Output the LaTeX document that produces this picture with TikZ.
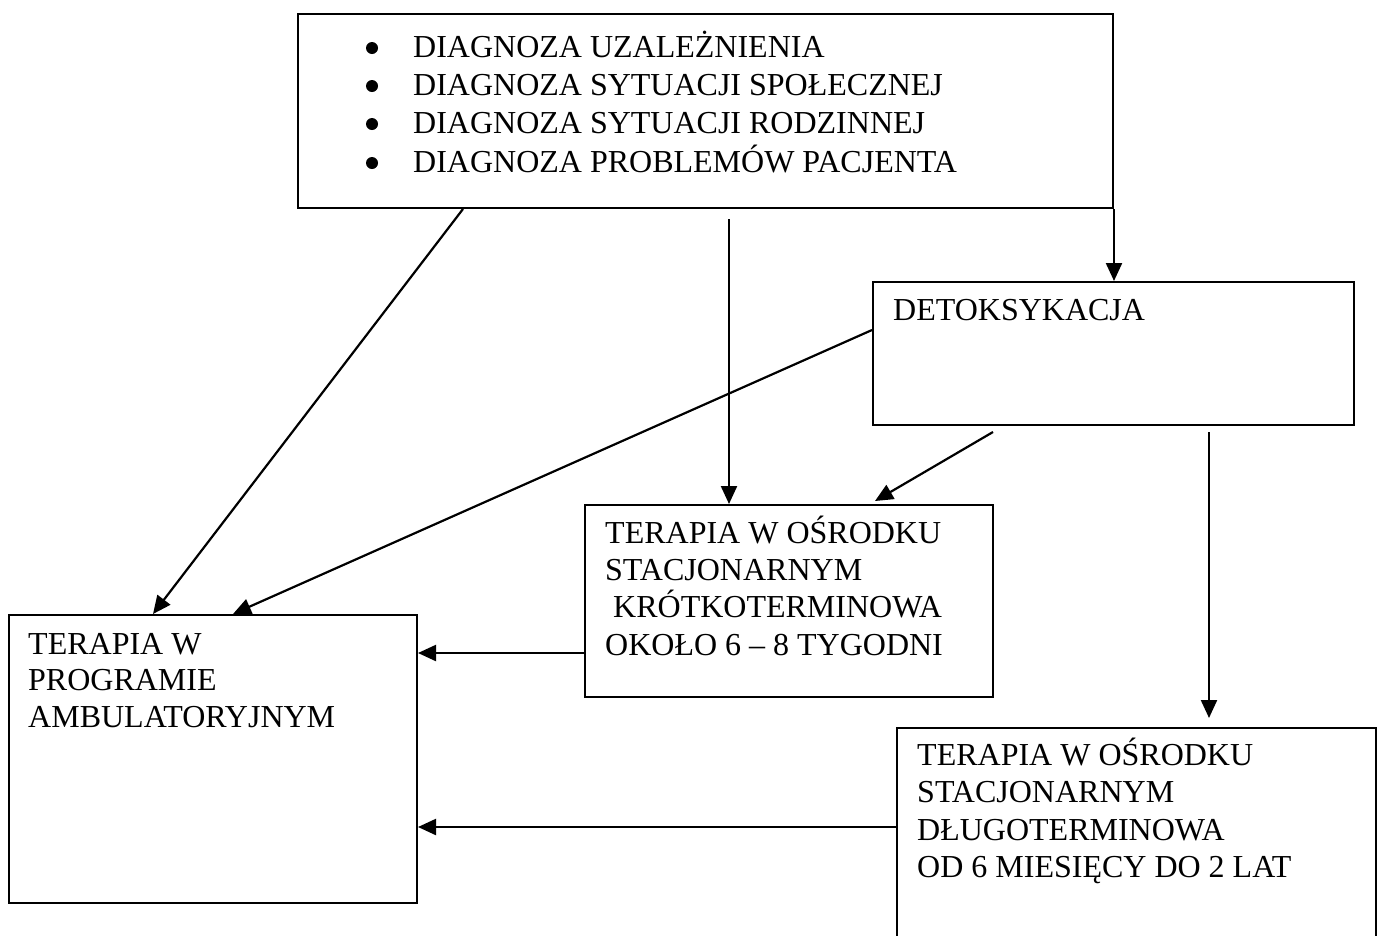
\documentclass[tikz,border=0pt]{standalone}
\usepackage{fontspec}
\setmainfont{Liberation Serif}
\usetikzlibrary{arrows.meta,calc}
\begin{document}
\begin{tikzpicture}[x=1pt,y=-1pt,
  box/.style={draw=black,line width=2pt,fill=none},
  lbl/.style={inner sep=0pt,anchor=base west,font=\fontsize{32}{37}\selectfont},
  dot/.style={circle,fill=black,inner sep=0pt,minimum size=12pt},
  arr/.style={line width=2.2pt,-{Triangle[length=18pt,width=16pt]}}]
\useasboundingbox (0,0) rectangle (1379,935);
\clip (0,0) rectangle (1379,935);
\fill[white] (0,0) rectangle (1379,935);
% boxes
\node[box,inner sep=0pt,minimum width=815pt,minimum height=194pt,anchor=north west] (top) at (297,13) {};
\node[box,inner sep=0pt,minimum width=481pt,minimum height=143pt,anchor=north west] (det) at (872,281) {};
\node[box,inner sep=0pt,minimum width=408pt,minimum height=192pt,anchor=north west] (mid) at (584,504) {};
\node[box,inner sep=0pt,minimum width=408pt,minimum height=288pt,anchor=north west] (amb) at (8,614) {};
\node[box,inner sep=0pt,minimum width=479pt,minimum height=240pt,anchor=north west] (lng) at (896,727) {};
% texts
\node[dot] (b1) at (372,48) {};
\node[lbl] (t1) at (413,57) {DIAGNOZA UZALEŻNIENIA};
\node[dot] (b2) at (372,86) {};
\node[lbl] (t2) at (413,95) {DIAGNOZA SYTUACJI SPOŁECZNEJ};
\node[dot] (b3) at (372,124) {};
\node[lbl] (t3) at (413,133) {DIAGNOZA SYTUACJI RODZINNEJ};
\node[dot] (b4) at (372,163) {};
\node[lbl] (t4) at (413,172) {DIAGNOZA PROBLEMÓW PACJENTA};
\node[lbl] (d1) at (893,320) {DETOKSYKACJA};
\node[lbl] (m1) at (605,543) {TERAPIA W OŚRODKU};
\node[lbl] (m2) at (605,580) {STACJONARNYM};
\node[lbl] (m3) at (605,617) {\ KRÓTKOTERMINOWA};
\node[lbl] (m4) at (605,655) {OKOŁO 6 – 8 TYGODNI};
\node[lbl] (a1) at (28,654) {TERAPIA W};
\node[lbl] (a2) at (28,690) {PROGRAMIE};
\node[lbl] (a3) at (28,727) {AMBULATORYJNYM};
\node[lbl] (l1) at (917,765) {TERAPIA W OŚRODKU};
\node[lbl] (l2) at (917,802) {STACJONARNYM};
\node[lbl] (l3) at (917,840) {DŁUGOTERMINOWA};
\node[lbl] (l4) at (917,877) {OD 6 MIESIĘCY DO 2 LAT};
% connectors
\draw[arr] ($(top.south west)+(166,0)$) -- ($(amb.north west)+(145,0)$);
\draw[arr] ($(top.south west)+(432,10)$) -- ($(mid.north west)+(145,0)$);
\draw[arr] (top.south east) -- (top.south east |- det.north);
\draw[arr] ($(det.north west)+(0,49)$) -- ($(amb.north west)+(225,0)$);
\draw[arr] ($(det.south west)+(121,6)$) -- ($(mid.north west)+(291,-3)$);
\draw[arr] ($(det.south west)+(337,6)$) -- ($(lng.north west)+(313,-9)$);
\draw[arr] ($(mid.north west)+(0,149)$) -- ($(amb.north east)+(0,39)$);
\draw[arr] ($(lng.north west)+(0,100)$) -- ($(amb.north east)+(0,213)$);
\end{tikzpicture}
\end{document}
